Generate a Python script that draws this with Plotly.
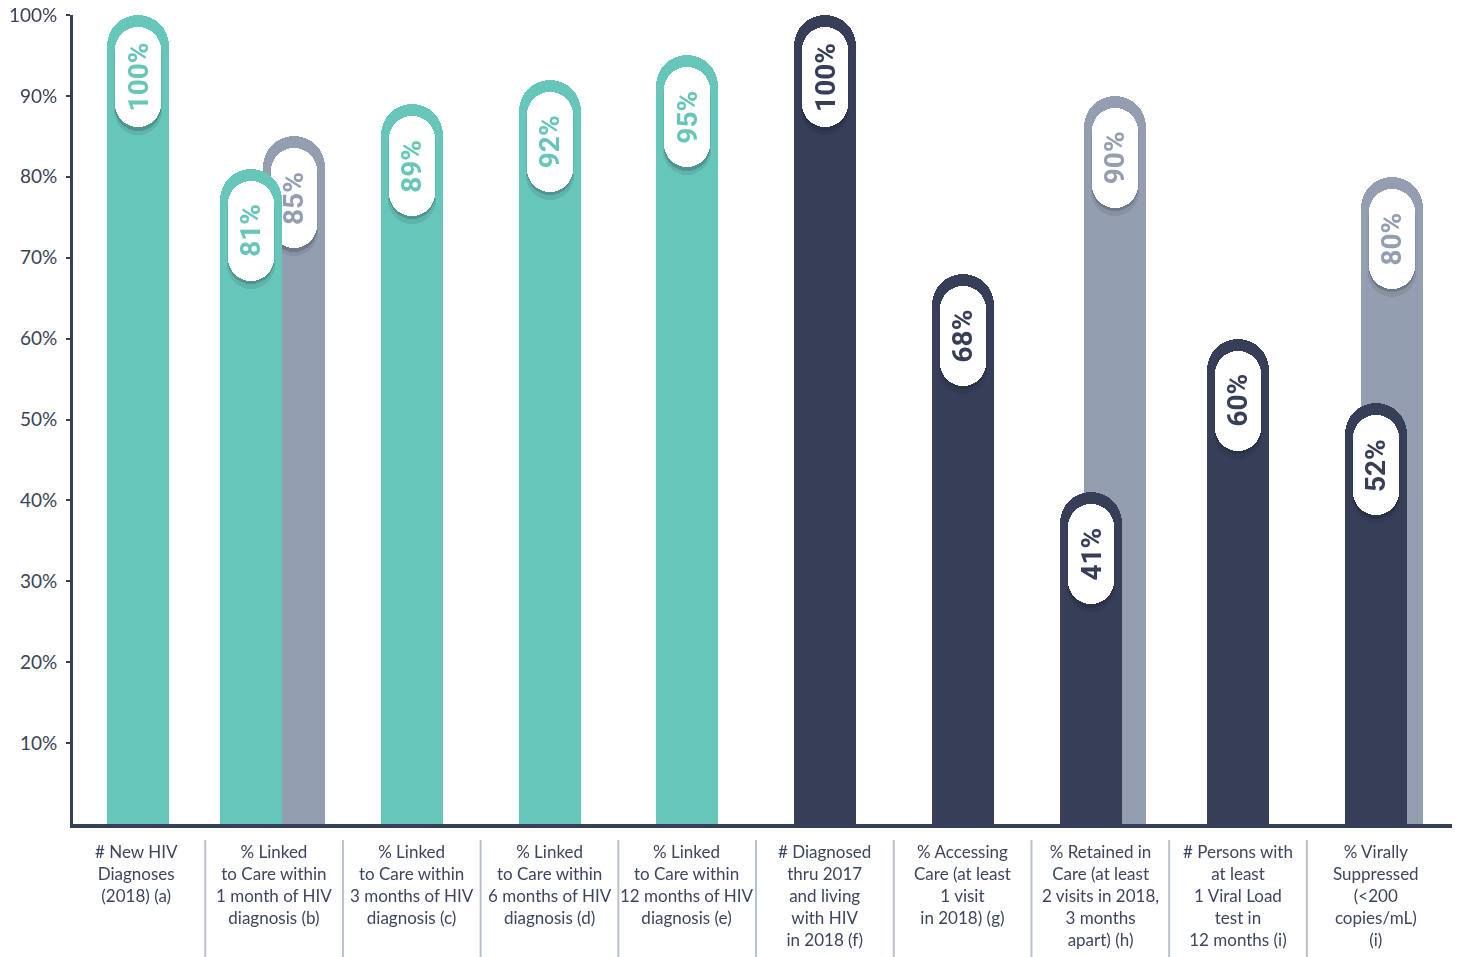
import plotly.graph_objects as go

# ---- data -------------------------------------------------------------
categories = [
    "# New HIV<br>Diagnoses<br>(2018) (a)",
    "% Linked<br>to Care within<br>1 month of HIV<br>diagnosis (b)",
    "% Linked<br>to Care within<br>3 months of HIV<br>diagnosis (c)",
    "% Linked<br>to Care within<br>6 months of HIV<br>diagnosis (d)",
    "% Linked<br>to Care within<br>12 months of HIV<br>diagnosis (e)",
    "# Diagnosed<br>thru 2017<br>and living<br>with HIV<br>in 2018 (f)",
    "% Accessing<br>Care (at least<br>1 visit<br>in 2018) (g)",
    "% Retained in<br>Care (at least<br>2 visits in 2018,<br>3 months<br>apart) (h)",
    "# Persons with<br>at least<br>1 Viral Load<br>test in<br>12 months (i)",
    "% Virally<br>Suppressed<br>(&lt;200<br>copies/mL)<br>(i)",
]
main_values = [100, 81, 89, 92, 95, 100, 68, 41, 60, 52]
main_group = ["new"] * 5 + ["prevalent"] * 5

target_index = [1, 7, 9]
target_values = [85, 90, 80]

y_ticks = [10, 20, 30, 40, 50, 60, 70, 80, 90, 100]
y_tick_labels = [f"{v}%" for v in y_ticks]

# ---- style ------------------------------------------------------------
TEAL = "#66c6b9"
NAVY = "#363f57"
GRAY = "#939fb0"
AXIS = "#353f55"
LABEL = "#3d4660"
DIVIDER = "#bcc0cd"
group_color = {"new": TEAL, "prevalent": NAVY}

W, H = 1460, 957
ML, MR, MT, MB = 73, 8, 15, 133
X0, X1 = -0.4604, 9.554
Y0, Y1 = 0, 100
px_x = (W - ML - MR) / (X1 - X0)   # pixels per category unit
px_y = (H - MT - MB) / (Y1 - Y0)   # pixels per percentage point

BAR_W = 62          # bar width, px
PILL_W = 46         # label pill width, px
PILL_H = 100        # label pill height, px
PILL_GAP = 12       # gap between bar top and pill top, px
main_shift = [2, -23, 0, 0, 0, 0, 0, -9, 0, 0]   # px, bar centre vs slot centre
target_shift = [19.5, 15, 16]


def ux(px):
    return px / px_x


def uy(px):
    return px / px_y


main_x = [i + ux(s) for i, s in enumerate(main_shift)]
target_x = [target_index[k] + ux(s) for k, s in enumerate(target_shift)]
main_colors = [group_color[g] for g in main_group]
target_colors = [GRAY] * len(target_values)

fig = go.Figure()


def add_bars(xs, vals, colors):
    fig.add_trace(go.Bar(
        x=xs, y=vals,
        width=[ux(BAR_W)] * len(xs), offset=[-ux(BAR_W) / 2] * len(xs),
        marker=dict(color=colors, line=dict(width=0), cornerradius=BAR_W / 2),
        hoverinfo="skip", showlegend=False, cliponaxis=False,
    ))


def add_pill(xs, vals, color, drop=0.0, extra=0.0, opacity=1.0):
    """Rounded white capsule hanging just below each bar top."""
    w = PILL_W + extra
    h = PILL_H + extra
    tops = [v - uy(PILL_GAP) - uy(drop) + uy(extra / 2) for v in vals]
    fig.add_trace(go.Bar(
        x=xs,
        y=[uy(h)] * len(xs),
        base=[t - uy(h) for t in tops],
        width=[ux(w)] * len(xs), offset=[-ux(w) / 2] * len(xs),
        marker=dict(color=color, line=dict(width=0), cornerradius=w / 2),
        opacity=opacity, hoverinfo="skip", showlegend=False,
    ))
    return [t - uy(h / 2) for t in tops]


def add_labels(xs, vals, centres, colors):
    for x, v, c, col in zip(xs, vals, centres, colors):
        fig.add_annotation(
            x=x, y=c, text=f"<b>{v}%</b>", textangle=-90, showarrow=False,
            font=dict(family="Roboto", size=28, color=col),
            xanchor="center", yanchor="middle",
        )


# back (target) bars first, then the main bars over them
add_bars(target_x, target_values, target_colors)
add_pill(target_x, target_values, "rgba(20,25,40,1)", drop=7, extra=2, opacity=0.10)
add_pill(target_x, target_values, "rgba(20,25,40,1)", drop=3.5, opacity=0.20)
t_centres = add_pill(target_x, target_values, "white")

add_bars(main_x, main_values, main_colors)
add_pill(main_x, main_values, "rgba(20,25,40,1)", drop=7, extra=2, opacity=0.10)
add_pill(main_x, main_values, "rgba(20,25,40,1)", drop=3.5, opacity=0.20)
m_centres = add_pill(main_x, main_values, "white")

add_labels(target_x, target_values, t_centres, target_colors)
add_labels(main_x, main_values, m_centres, main_colors)

# category labels under the axis
for i, txt in enumerate(categories):
    fig.add_annotation(
        x=i, y=0, yref="y", text=txt, showarrow=False,
        xanchor="center", yanchor="top", yshift=-15, align="center",
        font=dict(family="Lato", size=17, color=LABEL),
    )

# dividers between category labels
plot_h = H - MT - MB
for k in range(len(categories) - 1):
    fig.add_shape(
        type="line", xref="x", yref="paper",
        x0=k + 0.5, x1=k + 0.5, y0=-16 / plot_h, y1=-MB / plot_h,
        line=dict(color=DIVIDER, width=2),
    )

fig.update_layout(
    width=W, height=H,
    margin=dict(l=ML, r=MR, t=MT, b=MB, autoexpand=False),
    paper_bgcolor="white", plot_bgcolor="white",
    barmode="overlay", bargap=0,
    showlegend=False,
    xaxis=dict(
        range=[X0, X1], showgrid=False, zeroline=False, showticklabels=False,
        ticks="", showline=True, linecolor=AXIS, linewidth=3.5,
        automargin=False,
    ),
    yaxis=dict(
        range=[Y0, Y1], showgrid=False, zeroline=False,
        tickvals=y_ticks, ticktext=y_tick_labels,
        ticks="outside", ticklen=4, tickwidth=2, tickcolor=AXIS,
        ticklabelstandoff=5, automargin=False,
        showline=True, linecolor=AXIS, linewidth=3,
        tickfont=dict(family="Lato", size=19, color="#3a4358"),
    ),
)

fig.write_html("out.html")
